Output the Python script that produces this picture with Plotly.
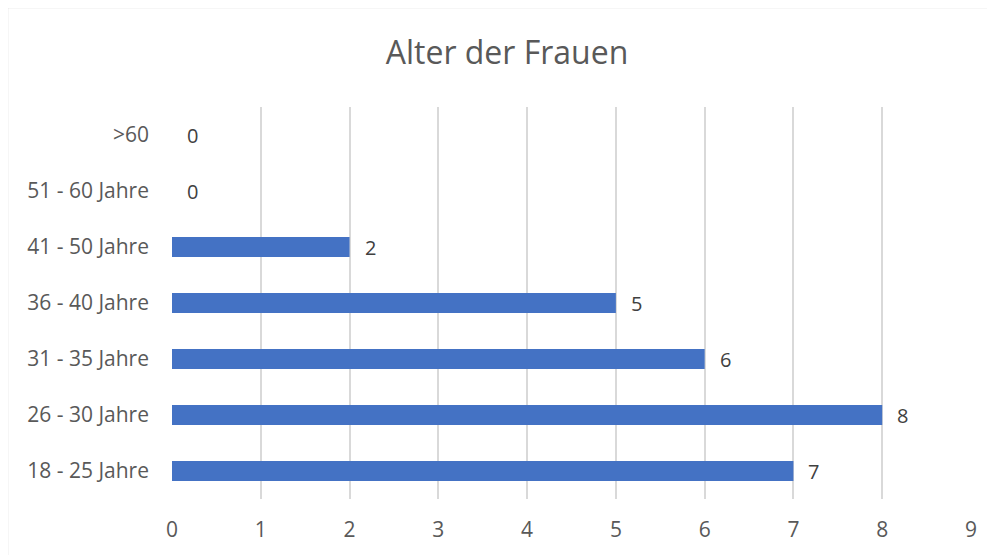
import plotly.graph_objects as go

categories = ["18 - 25 Jahre", "26 - 30 Jahre", "31 - 35 Jahre", "36 - 40 Jahre",
              "41 - 50 Jahre", "51 - 60 Jahre", ">60"]
values = [7, 8, 6, 5, 2, 0, 0]
x_ticks = [0, 1, 2, 3, 4, 5, 6, 7, 8, 9]
title_text = "Alter der Frauen"

FONT = "Open Sans"
fig = go.Figure()
fig.add_trace(go.Bar(
    x=values, y=categories, orientation="h",
    marker=dict(color="#4472C4", line=dict(width=0)),
    width=0.36, hoverinfo="x+y",
))

for v, c in zip(values, categories):
    fig.add_annotation(x=v, y=c, text=str(v), showarrow=False,
                       xanchor="left", yanchor="middle", xshift=13,
                       font=dict(family=FONT, size=20, color="#404040"))

# outer chart border (left/top visible in crop)
fig.add_shape(type="rect", xref="paper", yref="paper",
              x0=(7.5 - 172) / 799, x1=(1010 - 172) / 799,
              y0=(499 - 570) / 392, y1=1 + (107 - 7.5) / 392,
              line=dict(color="#D9D9D9", width=1.5), layer="below")

fig.update_layout(
    width=995, height=555,
    margin=dict(l=164, r=32, t=99, b=64),
    paper_bgcolor="white", plot_bgcolor="white",
    showlegend=False,
    title=dict(text=title_text, x=(507 - 8) / 995, xref="container", xanchor="center",
               y=1 - 45 / 555, yref="container", yanchor="middle",
               font=dict(family=FONT, size=32, color="#595959")),
    xaxis=dict(range=[0, 9], tickvals=x_ticks, showgrid=True,
               gridcolor="#D9D9D9", gridwidth=1.5, zeroline=False,
               showline=False, ticks="", ticklabelstandoff=16,
               tickfont=dict(family=FONT, size=21, color="#595959")),
    yaxis=dict(type="category", categoryorder="array", categoryarray=categories,
               showgrid=False, zeroline=False, showline=False, ticks="",
               ticklabelstandoff=22,
               tickfont=dict(family=FONT, size=21, color="#595959")),
)

fig.write_html("out.html")
